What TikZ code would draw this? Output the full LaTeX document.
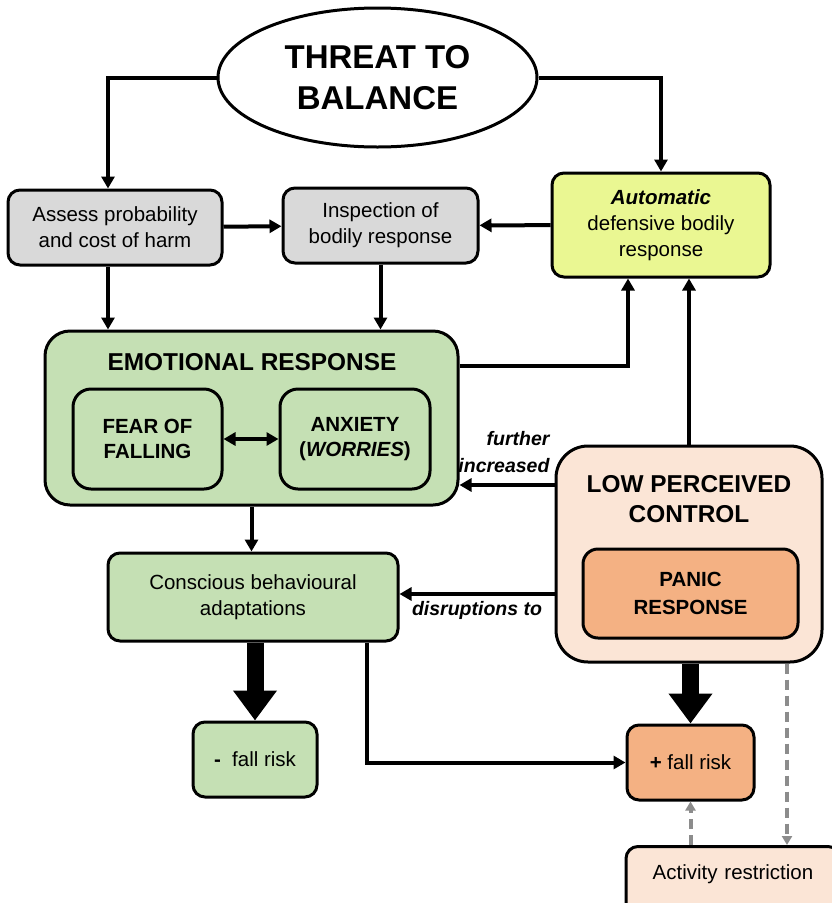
\documentclass[tikz,border=0pt]{standalone}
\usepackage{fontspec}
\setmainfont{Liberation Sans}
\usetikzlibrary{arrows.meta,positioning,calc,shapes.geometric}
\definecolor{boxgray}{HTML}{D9D9D9}
\definecolor{boxlime}{HTML}{EAF792}
\definecolor{boxgreen}{HTML}{C5E0B4}
\definecolor{boxpeach}{HTML}{FBE5D6}
\definecolor{boxorange}{HTML}{F4B183}
\definecolor{dashgray}{HTML}{8C8C8C}

\begin{document}
\begin{tikzpicture}[x=1pt,y=-1pt,>={Triangle[length=12pt,width=13pt]},line width=4pt,
 font=\fontsize{20.5}{26}\selectfont,
 box/.style={draw,line width=3pt,rounded corners=12pt,align=center,inner sep=0pt},
 big/.style={font=\bfseries\fontsize{24.4}{30}\selectfont,align=center},
 capbold/.style={font=\bfseries\fontsize{20.5}{25}\selectfont},
 lbl/.style={font=\bfseries\itshape\fontsize{19.5}{27}\selectfont,align=right},
 fat/.style={line width=17pt,-{Triangle[length=30pt,width=42pt]}},
 dimline/.style={draw=dashgray,line width=4pt,dash pattern=on 10pt off 6pt,-{Triangle[length=9pt,width=10pt]}}]
\useasboundingbox (0,0) rectangle (831,903);
\node[ellipse,draw,line width=3pt,minimum width=319pt,minimum height=139pt,inner sep=0pt,align=center,
 font=\bfseries\fontsize{33}{41}\selectfont] (threat) at (377.5,77.5) {THREAT TO\\BALANCE};
\node[box,fill=boxgray,minimum width=214pt,minimum height=75pt] (assess) at (115,227.5) {Assess probability\\and cost of harm};
\node[box,fill=boxgray,minimum width=195pt,minimum height=75pt] (inspect) at (380.5,225.5) {Inspection of\\bodily response};
\node[box,fill=boxlime,minimum width=218pt,minimum height=104pt] (auto) at (661,225) {\textbf{\textit{Automatic}}\\defensive bodily\\response};
\node[box,fill=boxgreen,rounded corners=25pt,minimum width=413pt,minimum height=174pt] (emo) at (251.5,418) {};
\node[big] (emotitle) at (252,362) {EMOTIONAL RESPONSE};
\node[box,fill=boxgreen,rounded corners=18pt,minimum width=149pt,minimum height=100pt,capbold] (fear) at (147.5,439) {FEAR OF\\FALLING};
\node[box,fill=boxgreen,rounded corners=18pt,minimum width=150pt,minimum height=100pt,capbold] (anx) at (355,439) {ANXIETY\\(\textit{WORRIES})};
\node[box,fill=boxpeach,rounded corners=32pt,minimum width=266pt,minimum height=216pt] (low) at (689,554) {};
\node[big] (lowtitle) at (689,499) {LOW PERCEIVED\\CONTROL};
\node[box,fill=boxorange,rounded corners=15pt,minimum width=215pt,minimum height=89pt,font=\bfseries\fontsize{20.5}{28}\selectfont] (panic) at (690.5,593.5) {PANIC\\RESPONSE};
\node[box,fill=boxgreen,minimum width=290pt,minimum height=88pt] (cons) at (253,597) {Conscious behavioural\\adaptations};
\node[box,fill=boxgreen,minimum width=124pt,minimum height=75pt] (mfall) at (255,759.5) {\textbf{-}\ \ fall risk};
\node[box,fill=boxorange,minimum width=127pt,minimum height=75pt] (pfall) at (690.5,762.5) {\textbf{+} fall risk};
\node[box,fill=boxpeach,anchor=north,text width=210pt,inner xsep=2pt,inner ysep=11pt,text height=22pt,text depth=45pt] (act) at (733,845) {Activity restriction};
% connectors
\draw[->] (threat.west) -| ([xshift=-7pt]assess.north);
\draw[->] (threat.east) -| (auto.north);
\draw[->] (assess) -- (inspect);
\draw[->] (auto) -- (inspect);
\draw[->] ([xshift=-7pt]assess.south) -- ([xshift=-7pt]assess.south |- emo.north);
\draw[->] (inspect.south) -- (inspect.south |- emo.north);
\draw[<->] (fear) -- (anx);
\draw[->] ([yshift=52pt]emo.east) -| ([xshift=-33pt]auto.south);
\draw[->] (low.north) -- (low.north |- auto.south);
\draw[->] ([yshift=69pt]low.west) -- node[lbl,pos=0,above left,inner sep=3pt,yshift=7pt]{further\\increased} ([yshift=69pt]low.west -| emo.east);
\draw[->] (emo.south) -- (emo.south |- cons.north);
\draw[->] ([yshift=-40pt]low.west) -- node[lbl,below,yshift=-2pt]{disruptions to} ([yshift=-40pt]low.west -| cons.east);
\draw[fat] (cons.south -| mfall.north) -- (mfall.north);
\draw[->] ([xshift=114pt]cons.south) |- (pfall.west);
\draw[fat] (low.south -| pfall.north) -- (pfall.north);
\draw[dimline] ([xshift=98pt]low.south) -- ([xshift=98pt]low.south |- act.north);
\draw[dimline] (pfall.south |- act.north) -- (pfall.south);
\end{tikzpicture}
\end{document}
